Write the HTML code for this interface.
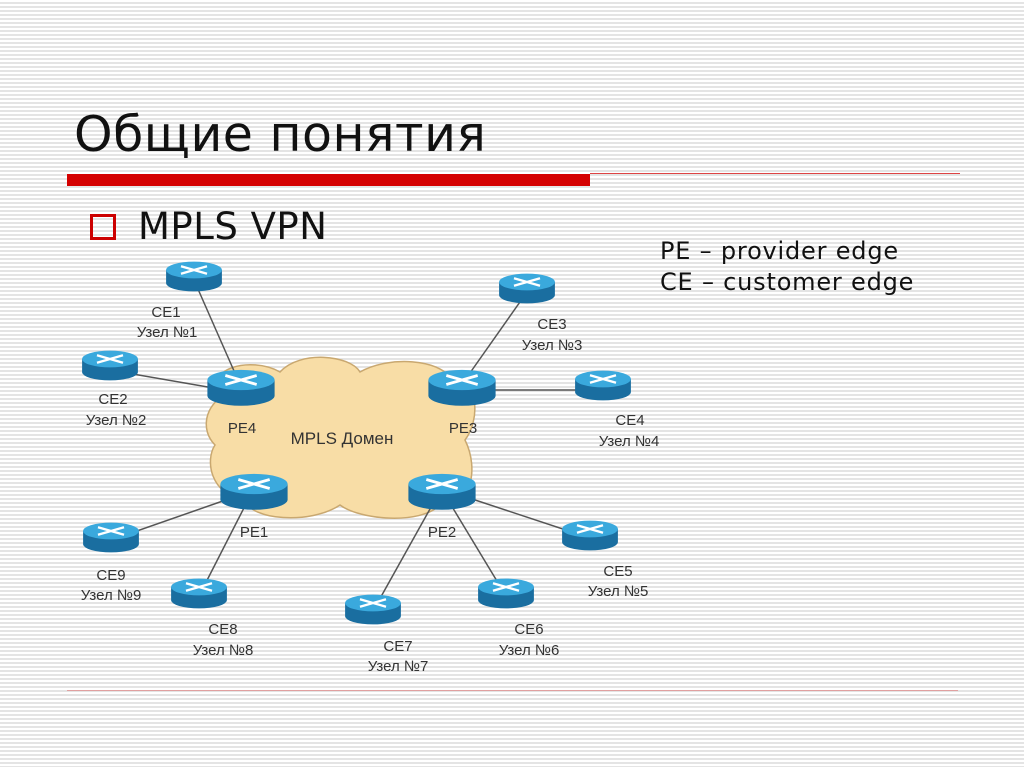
<!DOCTYPE html>
<html><head><meta charset="utf-8"><style>
body{margin:0;width:1024px;height:767px;overflow:hidden;background:repeating-linear-gradient(#fff 0 2px,#e4e4e4 2px 4px);font-family:"DejaVu Sans","Liberation Sans",sans-serif;position:relative}
.t{position:absolute;white-space:nowrap}
</style></head><body>
<div class="t" style="left:74px;top:106px;font-size:49px;color:#111;letter-spacing:0.5px">Общие понятия</div>
<div style="position:absolute;left:67px;top:174px;width:523px;height:12px;background:#d40000"></div>
<div style="position:absolute;left:590px;top:173px;width:370px;height:1px;background:#d44"></div>
<div style="position:absolute;left:67px;top:690px;width:891px;height:1px;background:#e0a0a0"></div>
<div style="position:absolute;left:90px;top:214px;width:20px;height:20px;border:3px solid #c00"></div>
<div class="t" style="left:138px;top:205px;font-size:37px;color:#111;letter-spacing:0.5px">MPLS VPN</div>
<div class="t" style="left:660px;top:236px;font-size:24px;color:#111;line-height:31px;letter-spacing:0.8px">PE – provider edge<br>CE – customer edge</div>
<svg width="1024" height="767" style="position:absolute;left:0;top:0" font-family="Liberation Sans,Arial,sans-serif">
<defs>
<g id="r"><path d="M-30 0 v14 a30 9 0 0 0 60 0 v-14z" fill="#1a6ea0"/><ellipse cx="0" cy="0" rx="30" ry="9" fill="#3aa9dd"/>
<path d="M-14 -4 L14 4 M-14 4 L14 -4" stroke="#fff" stroke-width="2.5"/></g>
</defs>
<path d="M225 395 C200 370 250 355 280 372 C300 350 350 355 360 372 C390 355 440 360 450 378 C480 380 480 420 465 440 C480 470 470 510 440 505 C420 525 360 520 340 505 C310 525 250 520 245 500 C210 495 205 460 215 445 C200 430 205 405 225 395Z" fill="#f8dda6" stroke="#c9a870" stroke-width="1.5"/>
<g stroke="#555" stroke-width="1.5">
<line x1="194" y1="280" x2="238" y2="380"/><line x1="110" y1="370" x2="225" y2="390"/>
<line x1="527" y1="292" x2="465" y2="380"/><line x1="603" y1="390" x2="480" y2="390"/>
<line x1="111" y1="540" x2="240" y2="495"/><line x1="199" y1="596" x2="248" y2="500"/>
<line x1="373" y1="611" x2="435" y2="500"/><line x1="506" y1="596" x2="448" y2="500"/>
<line x1="590" y1="538" x2="460" y2="495"/>
</g>
<use href="#r" transform="translate(194,270) scale(0.93)"/>
<use href="#r" transform="translate(110,359) scale(0.93)"/>
<use href="#r" transform="translate(241,380) scale(1.12)"/>
<use href="#r" transform="translate(462,380) scale(1.12)"/>
<use href="#r" transform="translate(527,282) scale(0.93)"/>
<use href="#r" transform="translate(603,379) scale(0.93)"/>
<use href="#r" transform="translate(254,484) scale(1.12)"/>
<use href="#r" transform="translate(442,484) scale(1.12)"/>
<use href="#r" transform="translate(111,531) scale(0.93)"/>
<use href="#r" transform="translate(199,587) scale(0.93)"/>
<use href="#r" transform="translate(373,603) scale(0.93)"/>
<use href="#r" transform="translate(506,587) scale(0.93)"/>
<use href="#r" transform="translate(590,529) scale(0.93)"/>
<g font-size="15" fill="#333" text-anchor="middle">
<text x="166" y="317">CE1</text><text x="167" y="337">Узел №1</text>
<text x="113" y="404">CE2</text><text x="116" y="425">Узел №2</text>
<text x="552" y="329">CE3</text><text x="552" y="350">Узел №3</text>
<text x="630" y="425">CE4</text><text x="629" y="446">Узел №4</text>
<text x="618" y="576">CE5</text><text x="618" y="596">Узел №5</text>
<text x="529" y="634">CE6</text><text x="529" y="655">Узел №6</text>
<text x="398" y="651">CE7</text><text x="398" y="671">Узел №7</text>
<text x="223" y="634">CE8</text><text x="223" y="655">Узел №8</text>
<text x="111" y="580">CE9</text><text x="111" y="600">Узел №9</text>
<text x="242" y="433">PE4</text><text x="463" y="433">PE3</text>
<text x="254" y="537">PE1</text><text x="442" y="537">PE2</text>
<text x="342" y="444" font-size="17">MPLS Домен</text>
</g>
</svg>
</body></html>
